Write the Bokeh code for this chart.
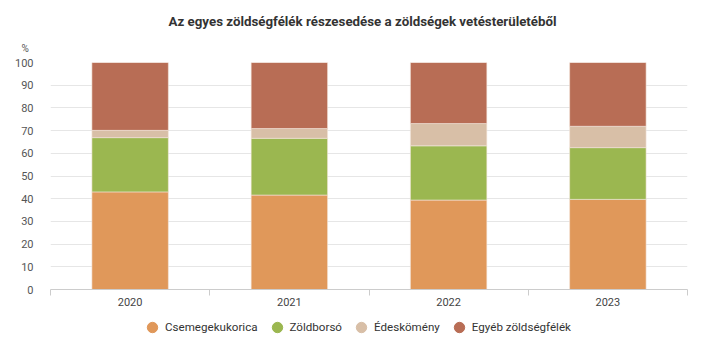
from bokeh.plotting import figure
from bokeh.layouts import column
from bokeh.models import (Range1d, FixedTicker, Legend, LegendItem, Title,
                          ColumnDataSource, LinearAxis)
from bokeh.embed import file_html
from bokeh.resources import INLINE
import numpy as np

years = ["2020", "2021", "2022", "2023"]
series = ["Csemegekukorica", "Zöldborsó", "Édeskömény", "Egyéb zöldségfélék"]
csemegekukorica = [43.0, 41.6, 39.4, 39.7]
zoldborso = [23.9, 25.0, 23.9, 22.8]
edeskomeny = [3.2, 4.3, 9.8, 9.4]
egyeb = [29.9, 29.1, 26.9, 28.1]
colors = ["#E0985A", "#9BB750", "#D8BFA7", "#B86D55"]
y_ticks = list(range(0, 101, 10))

FONT = "Roboto"

xs = np.arange(len(years)) + 0.5
src = ColumnDataSource(dict(x=xs, c=csemegekukorica, z=zoldborso, e=edeskomeny, g=egyeb))

p = figure(width=704, height=310, output_backend="svg", toolbar_location=None,
           x_range=Range1d(0, len(years)), y_range=Range1d(0, 100),
           x_axis_type=None, min_border_left=50, min_border_right=17,
           min_border_top=62, min_border_bottom=21)
p.outline_line_color = None
p.background_fill_color = "white"
p.title.text = "Az egyes zöldségfélék részesedése a zöldségek vetésterületéből"
p.title.align = "left"
p.title.offset = 118
p.title.standoff = 7
p.title.text_font = FONT
p.title.text_font_size = "13.3px"
p.title.text_color = "#333333"
p.title.text_font_style = "bold"

rs = p.vbar_stack(["c", "z", "e", "g"], x="x", width=0.48, source=src,
                  color=colors, line_color="#f4e6dc", line_width=0.6)

# x axis with boundary ticks
xaxis = LinearAxis(ticker=FixedTicker(ticks=list(xs), minor_ticks=list(range(len(years) + 1))),
                   major_label_overrides={float(x): y for x, y in zip(xs, years)})
xaxis.major_tick_line_color = None
xaxis.minor_tick_in = 0
xaxis.minor_tick_out = 6
xaxis.minor_tick_line_color = "#cccccc"
xaxis.axis_line_color = "#cccccc"
xaxis.major_label_text_font = FONT
xaxis.major_label_text_font_size = "11px"
xaxis.major_label_text_color = "#444444"
xaxis.major_label_standoff = 2
p.add_layout(xaxis, "below")

p.yaxis.ticker = FixedTicker(ticks=y_ticks)
p.yaxis.axis_line_color = None
p.yaxis.major_tick_line_color = None
p.yaxis.minor_tick_line_color = None
p.yaxis.major_label_text_font = FONT
p.yaxis.major_label_text_font_size = "11px"
p.yaxis.major_label_text_color = "#555555"
p.yaxis.major_label_standoff = 11
p.ygrid.ticker = FixedTicker(ticks=y_ticks)
p.ygrid.grid_line_color = "#e6e6e6"
p.xgrid.grid_line_color = None

pct = Title(text="%", text_font=FONT, text_font_size="10px", text_font_style="normal",
            text_color="#555555", align="left", offset=-29, standoff=17)
p.add_layout(pct, "above")

# legend in a separate strip, circle markers
lg = figure(width=704, height=36, output_backend="svg", toolbar_location=None,
            x_range=Range1d(0, 1), y_range=Range1d(0, 1),
            x_axis_type=None, y_axis_type=None, min_border=0)
lg.outline_line_color = None
lg.grid.grid_line_color = None
items = []
for name, col in zip(series, colors):
    r = lg.scatter(x=[np.nan], y=[np.nan], marker="circle", size=11, color=col)
    items.append(LegendItem(label=name, renderers=[r]))
legend = Legend(items=items, orientation="horizontal", location=(89, 6),
                label_text_font=FONT, label_text_font_size="11.6px",
                label_text_color="#333333", border_line_color=None,
                background_fill_alpha=0,
                glyph_width=26, glyph_height=26, spacing=6, label_standoff=0,
                padding=0, margin=0)
lg.add_layout(legend, "center")

layout = column(p, lg, spacing=0)
open("out.html", "w").write(file_html(layout, INLINE))
